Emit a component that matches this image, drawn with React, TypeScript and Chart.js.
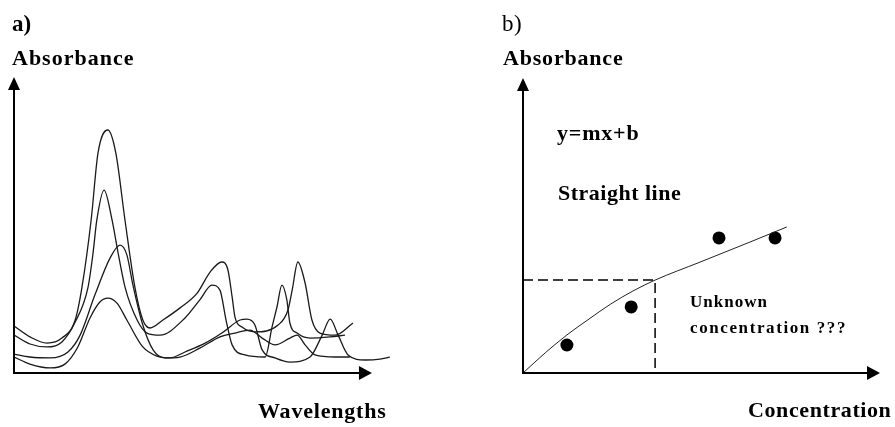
import React, { useEffect, useRef } from "react";
import { Chart, registerables } from "chart.js";

Chart.register(...registerables);

// ---------- Panel a) absorbance spectra (arbitrary units) ----------
const spectrumAX = [0, 4.2, 8.7, 12.6, 16.1, 17.9, 20.3, 22.1, 24.7, 26.8, 29.2, 31.8, 33.9, 35.8, 39.2, 43.7, 48.2, 51.6, 54.7, 56.3, 57.4, 58.2, 60.0, 63.4, 69.5, 72.1, 73.2, 74.7, 76.6, 78.4, 80.5, 84.5, 89.2];
const spectrumAY = [15.9, 12.2, 10.1, 11.8, 17.9, 29.1, 51.7, 74.3, 82.1, 74.3, 51.7, 29.1, 17.9, 15.2, 17.9, 22.0, 27.0, 34.1, 37.5, 34.8, 25.7, 18.6, 15.5, 13.9, 16.2, 21.3, 28.0, 37.5, 30.4, 17.9, 13.5, 12.8, 16.9];

const spectrumBX = [0, 4.2, 8.7, 12.6, 16.1, 19.5, 20.8, 21.8, 23.7, 25.8, 27.4, 29.2, 32.4, 35.0, 38.4, 45.0, 48.9, 52.1, 54.2, 55.8, 57.4, 60.8, 66.1, 67.9, 69.2, 70.5, 71.8, 72.6, 74.5, 77.9, 83.2, 87.1];
const spectrumBY = [12.8, 9.8, 8.8, 10.5, 17.2, 29.1, 40.5, 51.7, 61.8, 51.7, 40.5, 29.1, 17.9, 13.5, 12.8, 18.6, 24.7, 29.7, 28.0, 17.9, 9.5, 6.1, 5.4, 15.5, 22.3, 29.7, 24.7, 16.9, 13.5, 11.8, 12.2, 12.8];

const spectrumCX = [0, 4.2, 9.5, 14.2, 17.4, 21.3, 25.3, 27.9, 29.7, 31.3, 33.9, 36.6, 39.7, 43.7, 48.9, 54.2, 58.2, 62.1, 65.3, 68.7, 72.6, 74.5, 76.6, 79.2, 84.5, 88.4];
const spectrumCY = [6.4, 5.4, 5.1, 7.1, 12.8, 26.4, 38.9, 43.2, 39.9, 29.7, 16.2, 7.8, 5.1, 5.4, 8.4, 12.2, 13.5, 14.5, 11.8, 9.5, 11.8, 12.8, 9.5, 6.1, 5.4, 5.4];

const spectrumDX = [0, 4.2, 9.5, 13.4, 16.8, 20.0, 22.6, 24.7, 27.1, 29.7, 33.9, 37.6, 41.1, 45.0, 50.3, 54.7, 59.5, 61.3, 63.4, 65.3, 68.7, 72.6, 77.9, 81.1, 83.2, 85.3, 87.9, 92.4, 96.3, 98.9];
const spectrumDY = [5.4, 3.0, 1.7, 3.0, 8.8, 18.6, 24.0, 25.3, 23.6, 17.9, 8.8, 5.7, 5.1, 7.1, 10.1, 13.5, 17.9, 18.2, 16.2, 7.8, 5.1, 3.7, 5.4, 12.8, 18.2, 12.8, 6.1, 4.4, 4.7, 5.4];

// ---------- Panel b) calibration ----------
const calibX = [12.3, 30.3, 54.9, 70.6];
const calibY = [9.5, 22.4, 45.8, 45.8];
const fitX = [0, 6.2, 12.3, 18.5, 24.6, 30.8, 37.0, 49.6, 63.6, 73.9];
const fitY = [0, 6.8, 12.9, 18.3, 23.4, 27.8, 31.5, 37.6, 44.4, 49.5];
const unknownX = 37.0;
const unknownY = 31.5;

const FONT = '"Liberation Serif", "Times New Roman", serif';

const toPts = (xs: number[], ys: number[]) => xs.map((x, i) => ({ x, y: ys[i] }));

const arrowAxes = {
  id: "arrowAxes",
  afterDraw(chart: any, _a: any, opts: any) {
    const { ctx, scales } = chart;
    const x0 = scales.x.getPixelForValue(0);
    const y0 = scales.y.getPixelForValue(0);
    const xTip = scales.x.getPixelForValue(opts.xTip);
    const yTip = scales.y.getPixelForValue(opts.yTip);
    ctx.save();
    ctx.strokeStyle = "#000";
    ctx.lineWidth = 2;
    ctx.beginPath();
    ctx.moveTo(x0, y0 + 1);
    ctx.lineTo(x0, yTip + 12);
    ctx.moveTo(x0 - 1, y0);
    ctx.lineTo(xTip - 12, y0);
    ctx.stroke();
    ctx.fillStyle = "#000";
    ctx.beginPath();
    ctx.moveTo(x0, yTip);
    ctx.lineTo(x0 - 6, yTip + 13);
    ctx.lineTo(x0 + 6, yTip + 13);
    ctx.closePath();
    ctx.fill();
    ctx.beginPath();
    ctx.moveTo(xTip, y0);
    ctx.lineTo(xTip - 13, y0 - 7);
    ctx.lineTo(xTip - 13, y0 + 7);
    ctx.closePath();
    ctx.fill();
    ctx.restore();
  },
};

const labels = {
  id: "labels",
  afterDraw(chart: any, _a: any, opts: any) {
    const { ctx } = chart;
    ctx.save();
    ctx.fillStyle = "#000";
    ctx.textBaseline = "alphabetic";
    ctx.textAlign = "left";
    for (const t of opts.items || []) {
      ctx.font = `${t.weight || "bold"} ${t.size}px ${FONT}`;
      if ("letterSpacing" in ctx) (ctx as any).letterSpacing = `${t.spacing ?? 1}px`;
      ctx.fillText(t.text, t.x, t.y);
    }
    ctx.restore();
  },
};

function baseOptions(padding: any, xTip: number, items: any[]) {
  return {
    responsive: false,
    maintainAspectRatio: false,
    animation: false as const,
    devicePixelRatio: 1,
    layout: { padding },
    scales: {
      x: { type: "linear" as const, min: 0, max: 100, display: false },
      y: { type: "linear" as const, min: 0, max: 100, display: false },
    },
    plugins: {
      legend: { display: false },
      tooltip: { enabled: false },
      arrowAxes: { xTip, yTip: 100 },
      labels: { items },
    },
  };
}

function PanelA() {
  const ref = useRef<HTMLCanvasElement>(null);
  useEffect(() => {
    const curve = (xs: number[], ys: number[]) => ({
      data: toPts(xs, ys),
      borderColor: "#1a1a1a",
      borderWidth: 1.3,
      pointRadius: 0,
      fill: false,
      cubicInterpolationMode: "monotone" as const,
    });
    const chart = new Chart(ref.current!, {
      type: "line",
      data: {
        datasets: [
          curve(spectrumAX, spectrumAY),
          curve(spectrumBX, spectrumBY),
          curve(spectrumCX, spectrumCY),
          curve(spectrumDX, spectrumDY),
        ],
      },
      options: baseOptions({ left: 14, right: 53, top: 77, bottom: 54 }, 94.2, [
        { text: "a)", x: 12, y: 31, size: 23, spacing: 0 },
        { text: "Absorbance", x: 12, y: 65, size: 22, spacing: 1 },
        { text: "Wavelengths", x: 258, y: 418, size: 22, spacing: 0.8 },
      ]) as any,
      plugins: [arrowAxes, labels],
    });
    return () => chart.destroy();
  }, []);
  return <canvas ref={ref} width={447} height={427} style={{ position: "absolute", left: 0, top: 0 }} />;
}

function PanelB() {
  const ref = useRef<HTMLCanvasElement>(null);
  useEffect(() => {
    const chart = new Chart(ref.current!, {
      type: "line",
      data: {
        datasets: [
          {
            data: [
              { x: 0, y: unknownY },
              { x: unknownX, y: unknownY },
              { x: unknownX, y: 0 },
            ],
            borderColor: "#000",
            borderWidth: 1.5,
            borderDash: [10, 5],
            pointRadius: 0,
            tension: 0,
            fill: false,
          },
          {
            data: toPts(fitX, fitY),
            borderColor: "#222",
            borderWidth: 1,
            pointRadius: 0,
            fill: false,
            cubicInterpolationMode: "monotone" as const,
          },
          {
            type: "scatter" as const,
            data: toPts(calibX, calibY),
            backgroundColor: "#000",
            borderColor: "#000",
            borderWidth: 0,
            pointRadius: 6.5,
            showLine: false,
          } as any,
        ],
      },
      options: baseOptions({ left: 76, right: 15, top: 78, bottom: 54 }, 100, [
        { text: "b)", x: 55, y: 31, size: 23, weight: "normal", spacing: 0.5 },
        { text: "Absorbance", x: 56, y: 65, size: 22, spacing: 0.8 },
        { text: "y=mx+b", x: 110, y: 140, size: 22, spacing: 0.8 },
        { text: "Straight line", x: 111, y: 200, size: 22, spacing: 0.5 },
        { text: "Unknown", x: 243, y: 307, size: 17, spacing: 1 },
        { text: "concentration ???", x: 243, y: 333, size: 17, spacing: 1.6 },
        { text: "Concentration", x: 301, y: 417, size: 22, spacing: 0.6 },
      ]) as any,
      plugins: [arrowAxes, labels],
    });
    return () => chart.destroy();
  }, []);
  return <canvas ref={ref} width={448} height={427} style={{ position: "absolute", left: 447, top: 0 }} />;
}

export default function App() {
  return (
    <div style={{ position: "fixed", left: 0, top: 0, width: 895, height: 427, background: "#fff", overflow: "hidden" }}>
      <PanelA />
      <PanelB />
    </div>
  );
}
